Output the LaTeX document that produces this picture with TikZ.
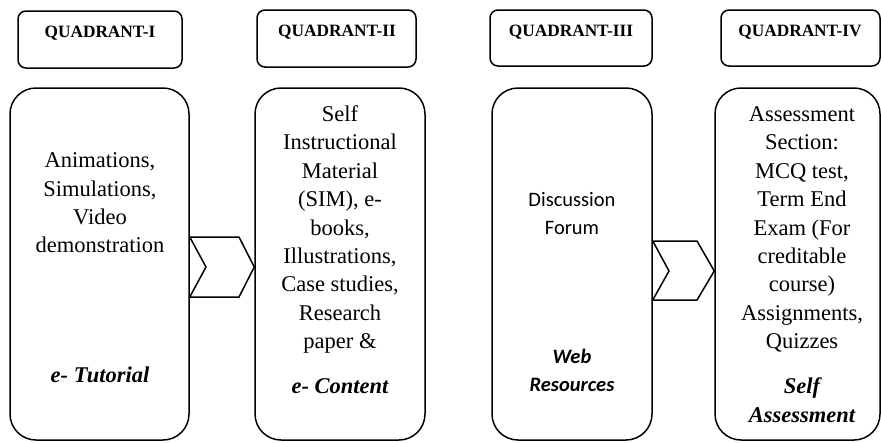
\documentclass[tikz,border=0pt]{standalone}
\usepackage{fontspec}
\setmainfont{Liberation Serif}
\newfontfamily\calib{Carlito}
\usetikzlibrary{calc}
\tikzset{
  headbox/.style={draw, line width=1.5pt, rounded corners=8pt, inner sep=0pt},
  bigbox/.style={draw, line width=1.5pt, rounded corners=26pt, inner sep=0pt,
                 minimum height=352pt},
  headtext/.style={font=\fontsize{17.3}{20}\selectfont\bfseries, inner sep=0pt},
  bodytext/.style={font=\fontsize{22.5}{28.4}\selectfont, align=center, inner sep=0pt},
  sanstext/.style={font=\calib\fontsize{20.5}{28}\selectfont, align=center, inner sep=0pt},
  labeltext/.style={font=\fontsize{22.5}{28.4}\selectfont\bfseries\itshape, align=center, inner sep=0pt},
  chevron/.style={draw, line width=1.5pt, line join=miter},
}
\begin{document}
\begin{tikzpicture}[x=1pt, y=-1pt]
\useasboundingbox (0,0) rectangle (881,442);

% header boxes
\node[headbox, minimum width=164pt, minimum height=57pt] (h1) at (100,39.5) {};
\node[headbox, minimum width=159pt, minimum height=57pt] (h2) at (336.5,38.5) {};
\node[headbox, minimum width=162pt, minimum height=56pt] (h3) at (571,38) {};
\node[headbox, minimum width=159pt, minimum height=56pt] (h4) at (800.5,38) {};
\node[headtext] (t1) at (100,33) {QUADRANT-I};
\node[headtext] (t2) at (337,32) {QUADRANT-II};
\node[headtext] (t3) at (571,32) {QUADRANT-III};
\node[headtext] (t4) at (800,32) {QUADRANT-IV};

% content boxes
\node[bigbox, minimum width=179pt] (b1) at (99.5,264) {};
\node[bigbox, minimum width=170pt] (b2) at (340,264) {};
\node[bigbox, minimum width=160pt] (b3) at (572,264) {};
\node[bigbox, minimum width=165pt] (b4) at (797.5,264) {};

% quadrant I
\node[bodytext] (q1) at (100,203) {Animations,\\Simulations,\\Video\\demonstration};
\node[labeltext] (l1) at (100,375) {e- Tutorial};

% quadrant II
\node[bodytext] (q2) at (340,229.5) {Self\\Instructional\\Material\\(SIM), e-\\books,\\Illustrations,\\Case studies,\\Research\\paper \&};
\node[labeltext] (l2) at (340,386) {e- Content};

% quadrant III
\node[sanstext] (q3) at (572,214) {Discussion\\Forum};
\node[sanstext, font=\calib\fontsize{20.5}{28}\selectfont\bfseries\itshape] (l3) at (572,370) {Web\\Resources};

% quadrant IV
\node[bodytext] (q4) at (802,229.5) {Assessment\\Section:\\MCQ test,\\Term End\\Exam (For\\creditable\\course)\\Assignments,\\Quizzes};
\node[labeltext] (l4) at (802,400) {Self\\Assessment};

% chevrons between the boxes
\draw[chevron] (b1.east |- 0,237) -- (239,237) -- (b2.west |- 0,267) -- (239,297)
  -- (b1.east |- 0,297) -- (206,267) -- cycle;
\draw[chevron] (b3.east |- 0,241) -- (697,241) -- (b4.west |- 0,271) -- (697,300)
  -- (b3.east |- 0,300) -- (669,271) -- cycle;
\end{tikzpicture}
\end{document}
